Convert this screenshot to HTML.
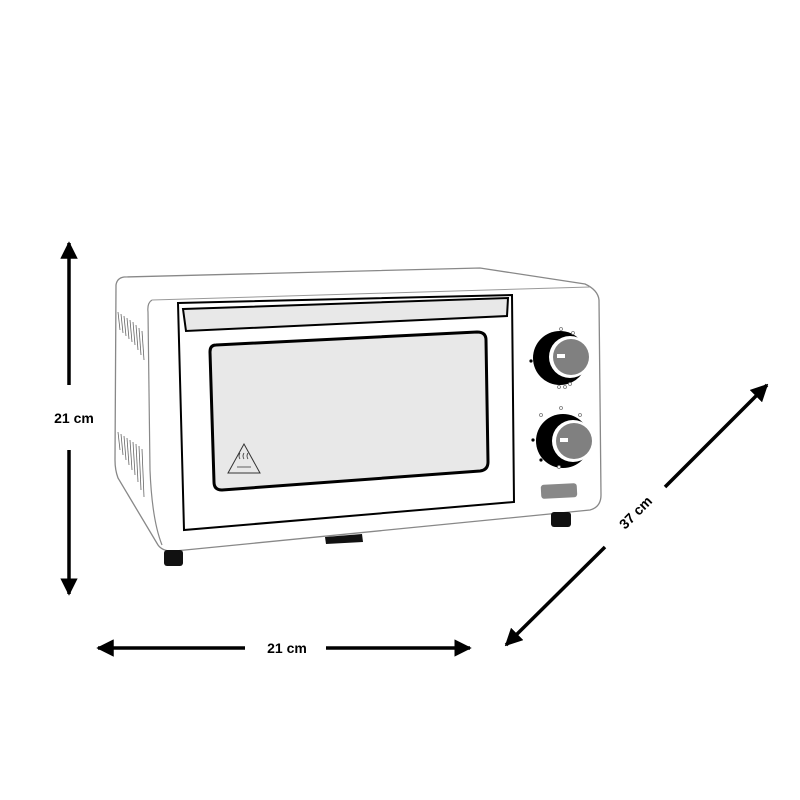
<!DOCTYPE html>
<html><head><meta charset="utf-8"><style>
html,body{margin:0;padding:0;background:#fff;width:800px;height:800px;overflow:hidden}
text{font-family:"Liberation Sans",Arial,sans-serif;font-weight:bold;font-size:14px;fill:#000}
</style></head><body>
<svg width="800" height="800" viewBox="0 0 800 800" xmlns="http://www.w3.org/2000/svg">
<defs>
<marker id="ah" viewBox="0 0 10 10" refX="9" refY="5" markerWidth="5" markerHeight="5" orient="auto-start-reverse"><path d="M0,0 L10,5 L0,10 z" fill="#000"/></marker>
</defs>
<path d="M124,277 L480,268 L585,284 Q598,290 599,300 L601,495 Q601,507 590,510 L175,551 Q163,552 158,545 L118,478 Q115,470 115,460 L116,285 Q117,278 124,277 Z" fill="#fff" stroke="#888" stroke-width="1.3"/>
<path d="M152,300 Q147,303 148,312 L150,470 Q152,520 162,545" fill="none" stroke="#888" stroke-width="1.2"/>
<path d="M152,300 L590,287" fill="none" stroke="#999" stroke-width="1"/>
<g stroke="#666" stroke-width="0.8">
<line x1="118" y1="312" x2="120" y2="330"/><line x1="121" y1="314" x2="123" y2="333"/><line x1="124" y1="316" x2="126" y2="336"/><line x1="127" y1="318" x2="129" y2="339"/><line x1="130" y1="320" x2="132" y2="342"/><line x1="133" y1="322" x2="135" y2="345"/><line x1="136" y1="325" x2="138" y2="350"/><line x1="139" y1="328" x2="141" y2="355"/><line x1="142" y1="331" x2="144" y2="360"/>
<line x1="118" y1="432" x2="120" y2="450"/><line x1="121" y1="434" x2="123" y2="455"/><line x1="124" y1="436" x2="126" y2="460"/><line x1="127" y1="438" x2="129" y2="465"/><line x1="130" y1="440" x2="132" y2="470"/><line x1="133" y1="442" x2="135" y2="475"/><line x1="136" y1="444" x2="138" y2="482"/><line x1="139" y1="446" x2="141" y2="490"/><line x1="142" y1="449" x2="144" y2="497"/>
</g>
<path d="M178,303 L512,295 L514,502 L184,530 Z" fill="#fff" stroke="#000" stroke-width="2"/>
<path d="M183,309 L508,298 L507,316 L186,331 Z" fill="#e8e8e8" stroke="#000" stroke-width="2"/>
<path d="M216,345 L477,332 Q486,332 486,340 L488,462 Q488,470 480,471 L222,490 Q214,490 214,482 L210,352 Q210,345 216,345 Z" fill="#e8e8e8" stroke="#000" stroke-width="3"/>
<path d="M244,444 L228,473 L260,473 Z" fill="none" stroke="#333" stroke-width="1"/>
<path d="M240,459 q-2,-3 0,-6 M244,459 q-2,-3 0,-6 M248,459 q-2,-3 0,-6 M237,467 L251,467" fill="none" stroke="#333" stroke-width="0.8"/>
<circle cx="560" cy="358" r="27" fill="#000"/>
<circle cx="570" cy="357" r="21" fill="#fff"/>
<circle cx="571" cy="357" r="18" fill="#808080"/>
<rect x="557" y="354" width="8" height="4" fill="#fff"/>
<circle cx="563" cy="441" r="27" fill="#000"/>
<circle cx="573" cy="441" r="21" fill="#fff"/>
<circle cx="574" cy="441" r="18" fill="#808080"/>
<rect x="560" y="438" width="8" height="4" fill="#fff"/>
<g fill="#fff" stroke="#777" stroke-width="0.8">
<circle cx="561" cy="329" r="1.5"/><circle cx="573" cy="333" r="1.5"/><circle cx="559" cy="387" r="1.5"/><circle cx="565" cy="387" r="1.5"/><circle cx="570" cy="384" r="1.5"/>
<circle cx="561" cy="408" r="1.5"/><circle cx="541" cy="415" r="1.5"/><circle cx="580" cy="415" r="1.5"/><circle cx="559" cy="467" r="1.5"/>
</g>
<g fill="#000"><circle cx="531" cy="361" r="1.6"/><circle cx="533" cy="440" r="1.6"/><circle cx="541" cy="460" r="1.6"/></g>
<rect x="541" y="484" width="36" height="14" rx="3" fill="#888" transform="rotate(-3 559 491)"/>
<rect x="164" y="550" width="19" height="16" rx="3" fill="#111"/>
<rect x="551" y="512" width="20" height="15" rx="3" fill="#111"/>
<path d="M325,537 L362,534 L363,542 L326,544 Z" fill="#111"/>
<g stroke="#000" stroke-width="3.5" marker-end="url(#ah)">
<line x1="69" y1="385" x2="69" y2="243"/>
<line x1="69" y1="450" x2="69" y2="594"/>
<line x1="245" y1="648" x2="98" y2="648"/>
<line x1="326" y1="648" x2="470" y2="648"/>
<line x1="665" y1="487" x2="767" y2="385"/>
<line x1="605" y1="547" x2="506" y2="645"/>
</g>
<text x="74" y="423" text-anchor="middle">21 cm</text>
<text x="287" y="653" text-anchor="middle">21 cm</text>
<text x="0" y="0" text-anchor="middle" transform="translate(639,516) rotate(-45)">37 cm</text>
</svg>
</body></html>
